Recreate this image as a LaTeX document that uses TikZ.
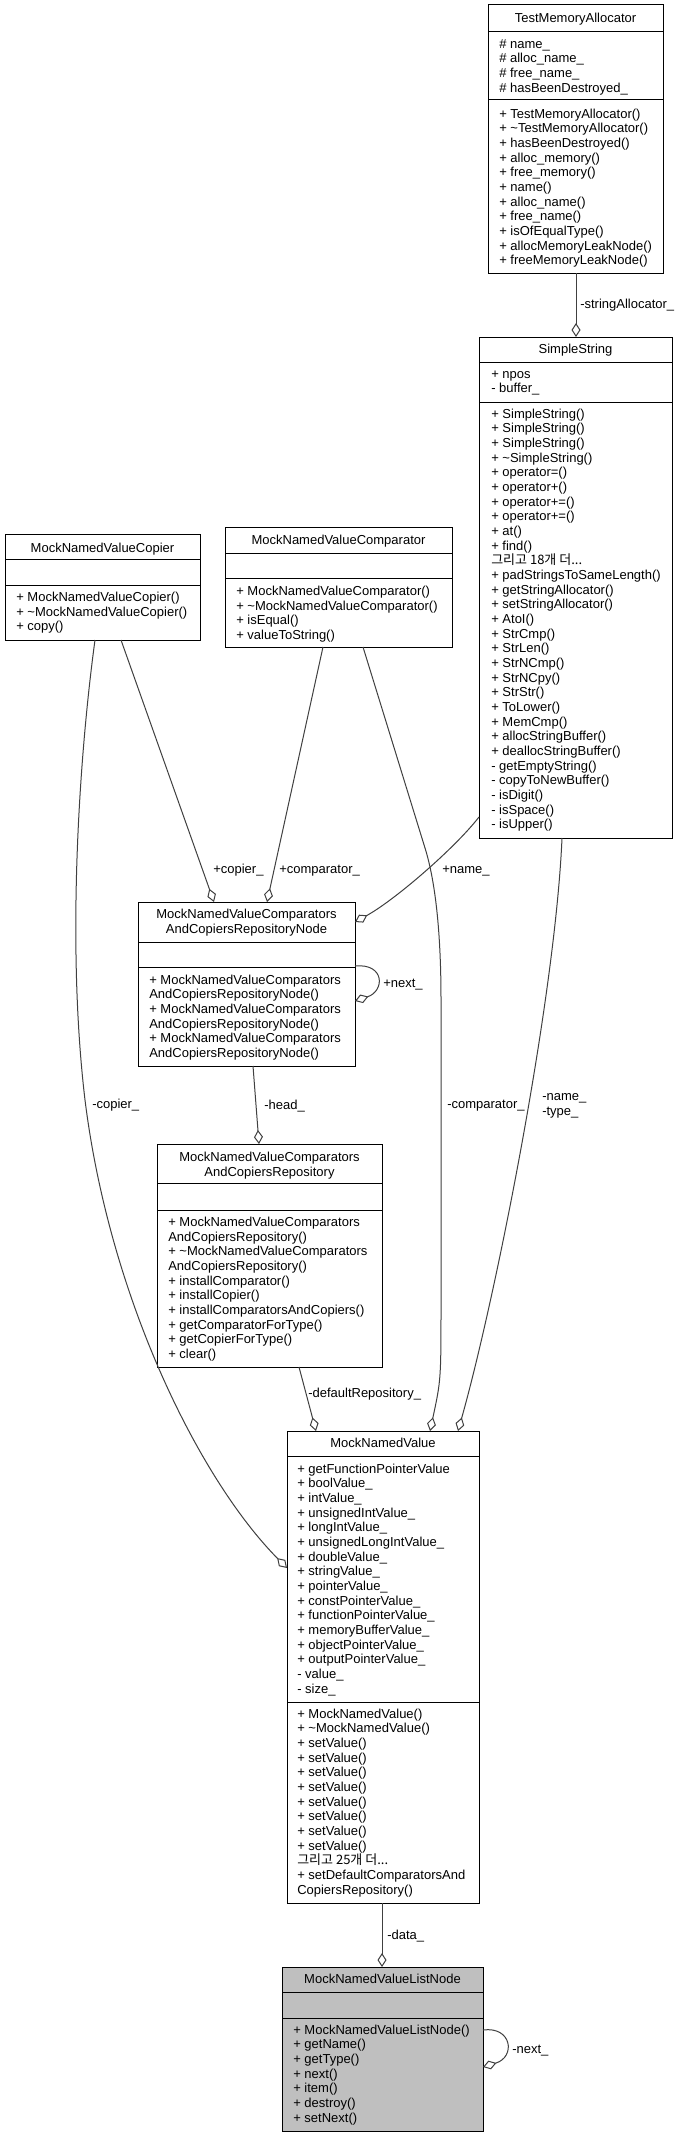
\documentclass[tikz,border=0pt]{standalone}
\usepackage{fontspec}
\setmainfont{Liberation Sans}
\newfontfamily\cjk{Noto Sans CJK KR}
\usetikzlibrary{arrows.meta,calc,fit}
\definecolor{edgegray}{HTML}{404040}
\definecolor{boxgray}{HTML}{BFBFBF}
\newcommand{\mfont}{\fontsize{9.75pt}{11pt}\selectfont}
\newcommand{\tl}{\textasciitilde{}}
\begin{document}
\begin{tikzpicture}[x=0.75pt,y=-0.75pt,
  cls/.style={draw=black,line width=0.75pt,inner sep=0pt,outer sep=0pt},
  divline/.style={draw=black,line width=0.75pt},
  ttl/.style={anchor=north,inner sep=0pt,align=center,font=\mfont},
  mem/.style={anchor=north west,inner sep=0pt,align=left,font=\mfont},
  lbl/.style={anchor=north west,inner sep=0pt,align=left,font=\mfont},
  agg/.style={draw=edgegray,line width=0.75pt,{Diamond[open,length=10.5pt,width=6.75pt]}-},
]
\fill[white] (0,0) rectangle (680,2137);
\useasboundingbox (0,0) rectangle (680,2137);

% ---------- TestMemoryAllocator ----------
\node[cls,fit={(488,5) (663,273)}] (tma) {};
\draw[divline] (488,32) -- (663,32);
\draw[divline] (488,100) -- (663,100);
\node[ttl] (tmat) at (575.5,12.4) {\strut TestMemoryAllocator};
\node[mem] (tmaa) at (499,37.7) {\strut\# name\_\\\# alloc\_name\_\\\# free\_name\_\\\# hasBeenDestroyed\_};
\node[mem] (tmam) at (499,107.7) {\strut + TestMemoryAllocator()\\+ \tl TestMemoryAllocator()\\+ hasBeenDestroyed()\\+ alloc\_memory()\\+ free\_memory()\\+ name()\\+ alloc\_name()\\+ free\_name()\\+ isOfEqualType()\\+ allocMemoryLeakNode()\\+ freeMemoryLeakNode()};

% ---------- SimpleString ----------
\node[cls,fit={(479,337) (672,838)}] (ss) {};
\draw[divline] (479,362) -- (672,362);
\draw[divline] (479,402) -- (672,402);
\node[ttl] (sst) at (575.5,343.4) {\strut SimpleString};
\node[mem] (ssa) at (491,367.7) {\strut + npos\\- buffer\_};
\node[mem] (ssm) at (491,407.7) {\strut + SimpleString()\\+ SimpleString()\\+ SimpleString()\\+ \tl SimpleString()\\+ operator=()\\+ operator+()\\+ operator+=()\\+ operator+=()\\+ at()\\+ find()\\{\cjk 그리고 18개 더...}\\+ padStringsToSameLength()\\+ getStringAllocator()\\+ setStringAllocator()\\+ AtoI()\\+ StrCmp()\\+ StrLen()\\+ StrNCmp()\\+ StrNCpy()\\+ StrStr()\\+ ToLower()\\+ MemCmp()\\+ allocStringBuffer()\\+ deallocStringBuffer()\\- getEmptyString()\\- copyToNewBuffer()\\- isDigit()\\- isSpace()\\- isUpper()};

% ---------- MockNamedValueCopier ----------
\node[cls,fit={(5,534) (200,640)}] (cp) {};
\draw[divline] (5,559.5) -- (200,559.5);
\draw[divline] (5,585.5) -- (200,585.5);
\node[ttl] (cpt) at (102.5,542) {\strut MockNamedValueCopier};
\node[mem] (cpm) at (16,591.1) {\strut + MockNamedValueCopier()\\+ \tl MockNamedValueCopier()\\+ copy()};

% ---------- MockNamedValueComparator ----------
\node[cls,fit={(225,527) (452,647)}] (cmp) {};
\draw[divline] (225,553) -- (452,553);
\draw[divline] (225,578) -- (452,578);
\node[ttl] (cmpt) at (338.5,534.4) {\strut MockNamedValueComparator};
\node[mem] (cmpm) at (236,585.1) {\strut + MockNamedValueComparator()\\+ \tl MockNamedValueComparator()\\+ isEqual()\\+ valueToString()};

% ---------- RepositoryNode ----------
\node[cls,fit={(138,902) (355,1066)}] (rn) {};
\draw[divline] (138,942) -- (355,942);
\draw[divline] (138,967) -- (355,967);
\node[ttl] (rnt) at (246.5,908.4) {\strut MockNamedValueComparators\\AndCopiersRepositoryNode};
\node[mem] (rnm) at (149,973.7) {\strut + MockNamedValueComparators\\AndCopiersRepositoryNode()\\+ MockNamedValueComparators\\AndCopiersRepositoryNode()\\+ MockNamedValueComparators\\AndCopiersRepositoryNode()};

% ---------- Repository ----------
\node[cls,fit={(157,1144) (382,1367)}] (rp) {};
\draw[divline] (157,1183) -- (382,1183);
\draw[divline] (157,1210) -- (382,1210);
\node[ttl] (rpt) at (269.5,1151.1) {\strut MockNamedValueComparators\\AndCopiersRepository};
\node[mem] (rpm) at (168,1216.1) {\strut + MockNamedValueComparators\\AndCopiersRepository()\\+ \tl MockNamedValueComparators\\AndCopiersRepository()\\+ installComparator()\\+ installCopier()\\+ installComparatorsAndCopiers()\\+ getComparatorForType()\\+ getCopierForType()\\+ clear()};

% ---------- MockNamedValue ----------
\node[cls,fit={(287,1431) (479,1903)}] (mnv) {};
\draw[divline] (287,1456) -- (479,1456);
\draw[divline] (287,1702) -- (479,1702);
\node[ttl] (mnvt) at (383,1437.1) {\strut MockNamedValue};
\node[mem] (mnva) at (297,1462.7) {\strut + getFunctionPointerValue\\+ boolValue\_\\+ intValue\_\\+ unsignedIntValue\_\\+ longIntValue\_\\+ unsignedLongIntValue\_\\+ doubleValue\_\\+ stringValue\_\\+ pointerValue\_\\+ constPointerValue\_\\+ functionPointerValue\_\\+ memoryBufferValue\_\\+ objectPointerValue\_\\+ outputPointerValue\_\\- value\_\\- size\_};
\node[mem] (mnvm) at (297,1707.7) {\strut + MockNamedValue()\\+ \tl MockNamedValue()\\+ setValue()\\+ setValue()\\+ setValue()\\+ setValue()\\+ setValue()\\+ setValue()\\+ setValue()\\+ setValue()\\{\cjk 그리고 25개 더...}\\+ setDefaultComparatorsAnd\\CopiersRepository()};

% ---------- MockNamedValueListNode ----------
\node[cls,fill=boxgray,fit={(282,1967) (483,2131)}] (ln) {};
\draw[divline] (282,1992) -- (483,1992);
\draw[divline] (282,2018) -- (483,2018);
\node[ttl] (lnt) at (382.5,1973.4) {\strut MockNamedValueListNode};
\node[mem] (lnm) at (293,2023.7) {\strut + MockNamedValueListNode()\\+ getName()\\+ getType()\\+ next()\\+ item()\\+ destroy()\\+ setNext()};

% ---------- connectors ----------
\draw[agg] ($(ss.north west)+(97,0)$) -- ($(tma.south west)+(88,0)$);
\node[lbl] (l1) at (580,298.4) {\strut -stringAllocator\_};

\draw[agg] ($(rn.north west)+(76,0)$) -- ($(cp.south west)+(116,0)$);
\node[lbl] (l2) at (213,863.4) {\strut +copier\_};

\draw[agg] ($(rn.north west)+(129,0)$) -- ($(cmp.south west)+(98,0)$);
\node[lbl] (l3) at (279,863.4) {\strut +comparator\_};

\draw[agg] ($(rn.north east)+(0,20)$) .. controls +(40,-22) and +(-24,31) .. ($(ss.south west)+(0,-21)$);
\node[lbl] (l4) at (442,863.4) {\strut +name\_};

\draw[agg] ($(mnv.north west)+(0,137)$) .. controls +(-87,-88) and +(25,200) .. (85,1100)
   .. controls +(-19,-160) and +(-15,110) .. ($(cp.south west)+(90,0)$);
\node[lbl] (l5) at (92,1098.4) {\strut -copier\_};

\draw[agg] ($(mnv.north west)+(143,0)$) .. controls (441,1380) .. (441,1300) -- (441,1000)
   .. controls (441,930) and (435,880) .. (425,848) -- ($(cmp.south west)+(138,0)$);
\node[lbl] (l6) at (447,1098.4) {\strut -comparator\_};

\draw[agg] ($(mnv.north west)+(171,0)$) .. controls +(37,-131) and +(-7,162) .. ($(ss.south west)+(83,0)$);
\node[lbl] (l7) at (542,1090.4) {\strut -name\_\\-type\_};

\draw[agg] ($(rp.north west)+(102,0)$) -- ($(rn.south west)+(115,0)$);
\node[lbl] (l8) at (264,1099.4) {\strut -head\_};

\draw[agg] ($(mnv.north west)+(29,0)$) -- ($(rp.south west)+(142,0)$);
\node[lbl] (l9) at (308,1387.4) {\strut -defaultRepository\_};

\draw[agg] ($(ln.north west)+(100,0)$) -- ($(mnv.south west)+(95,0)$);
\node[lbl] (l10) at (387,1929.4) {\strut -data\_};

\draw[agg] ($(rn.north east)+(0,99)$) .. controls +(30,-10) and +(30,-3) .. ($(rn.north east)+(0,64)$);
\node[lbl] (l11) at (383,977.4) {\strut +next\_};

\draw[agg] ($(ln.north east)+(0,100)$) .. controls +(33,-10) and +(29,-4) .. ($(ln.north east)+(0,63)$);
\node[lbl] (l12) at (512,2043.4) {\strut -next\_};
\end{tikzpicture}
\end{document}
